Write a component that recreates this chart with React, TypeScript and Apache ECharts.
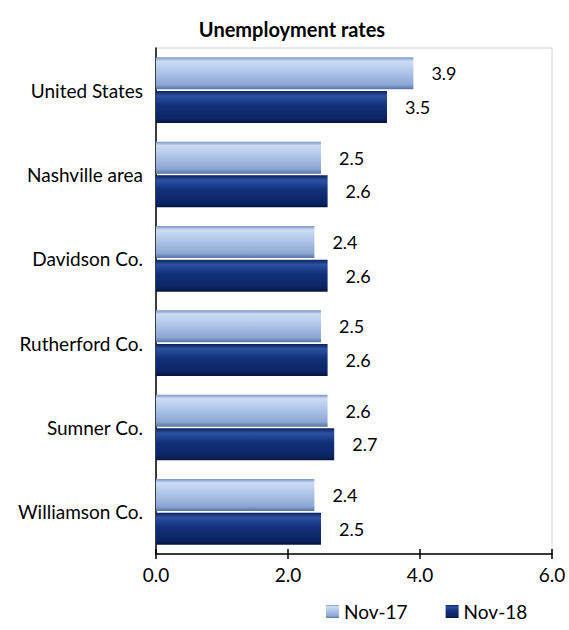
import React, { useEffect, useRef } from "react";
import * as echarts from "echarts";

const categories = ["United States", "Nashville area", "Davidson Co.", "Rutherford Co.", "Sumner Co.", "Williamson Co."];
const nov17 = [3.9, 2.5, 2.4, 2.5, 2.6, 2.4];
const nov18 = [3.5, 2.6, 2.6, 2.6, 2.7, 2.5];
const seriesNames = ["Nov-17", "Nov-18"];
const FONT = "Lato, 'Liberation Sans', sans-serif";

const lightGrad = () =>
  new echarts.graphic.LinearGradient(0, 0, 0, 1, [
    { offset: 0, color: "#7896c8" },
    { offset: 0.12, color: "#cddcf3" },
    { offset: 0.45, color: "#afc5e8" },
    { offset: 0.85, color: "#8ca7d5" },
    { offset: 1, color: "#56739f" },
  ]);
const darkGrad = () =>
  new echarts.graphic.LinearGradient(0, 0, 0, 1, [
    { offset: 0, color: "#0a205a" },
    { offset: 0.15, color: "#2d52a2" },
    { offset: 0.45, color: "#12307a" },
    { offset: 0.85, color: "#0b2565" },
    { offset: 1, color: "#051540" },
  ]);

export default function App() {
  const ref = useRef<HTMLDivElement>(null);
  useEffect(() => {
    if (!ref.current) return;
    const chart = echarts.init(ref.current, null, { renderer: "svg" });
    const labelStyle = {
      show: true,
      position: "right",
      distance: 18,
      fontSize: 18,
      color: "#000",
      fontFamily: FONT,
      formatter: (p: any) => Number(p.value).toFixed(1),
    };
    chart.setOption({
      animation: false,
      backgroundColor: "#fff",
      textStyle: { fontFamily: FONT },
      title: {
        text: "Unemployment rates",
        left: 287,
        textAlign: "center",
        top: 14,
        textStyle: { fontSize: 20, fontWeight: "bold", color: "#000", fontFamily: FONT },
      },
      legend: {
        data: seriesNames,
        left: 321,
        top: 597,
        itemWidth: 13,
        itemHeight: 13,
        itemGap: 38,
        icon: "rect",
        textStyle: { fontSize: 19, color: "#000", fontFamily: FONT },
      },
      grid: {
        left: 156,
        top: 48,
        right: 17,
        bottom: 76,
        show: true,
        borderColor: "#d4d4d4",
        borderWidth: 1,
      },
      xAxis: [
        {
          type: "value",
          min: 0,
          max: 6,
          interval: 2,
          axisLine: { show: true, lineStyle: { color: "#000", width: 1.5 } },
          axisTick: { show: true, length: 5, lineStyle: { color: "#000", width: 1.5 } },
          axisLabel: {
            fontSize: 19,
            color: "#000",
            fontFamily: FONT,
            margin: 11,
            formatter: (v: number) => v.toFixed(1),
          },
          splitLine: { show: false },
        },
        {
          type: "value",
          position: "bottom",
          min: 0,
          max: 6,
          interval: 2,
          axisLine: { show: false },
          axisTick: { show: true, inside: true, length: 5, lineStyle: { color: "#000", width: 1.5 } },
          axisLabel: { show: false },
          splitLine: { show: false },
        },
      ],
      yAxis: {
        type: "category",
        data: categories,
        inverse: true,
        axisLine: { show: true, lineStyle: { color: "#000", width: 1.5 } },
        axisTick: { show: false },
        axisLabel: { fontSize: 19, color: "#000", fontFamily: FONT, margin: 13 },
      },
      series: [
        {
          name: seriesNames[0],
          type: "bar",
          data: nov17,
          barWidth: 32,
          barGap: "5%",
          itemStyle: { color: lightGrad() },
          label: labelStyle,
        },
        {
          name: seriesNames[1],
          type: "bar",
          data: nov18,
          barWidth: 32,
          barGap: "5%",
          itemStyle: { color: darkGrad() },
          label: labelStyle,
        },
      ],
    });
    return () => chart.dispose();
  }, []);
  return (
    <div
      ref={ref}
      style={{ position: "fixed", left: 0, top: 0, width: 569, height: 630 }}
    />
  );
}
